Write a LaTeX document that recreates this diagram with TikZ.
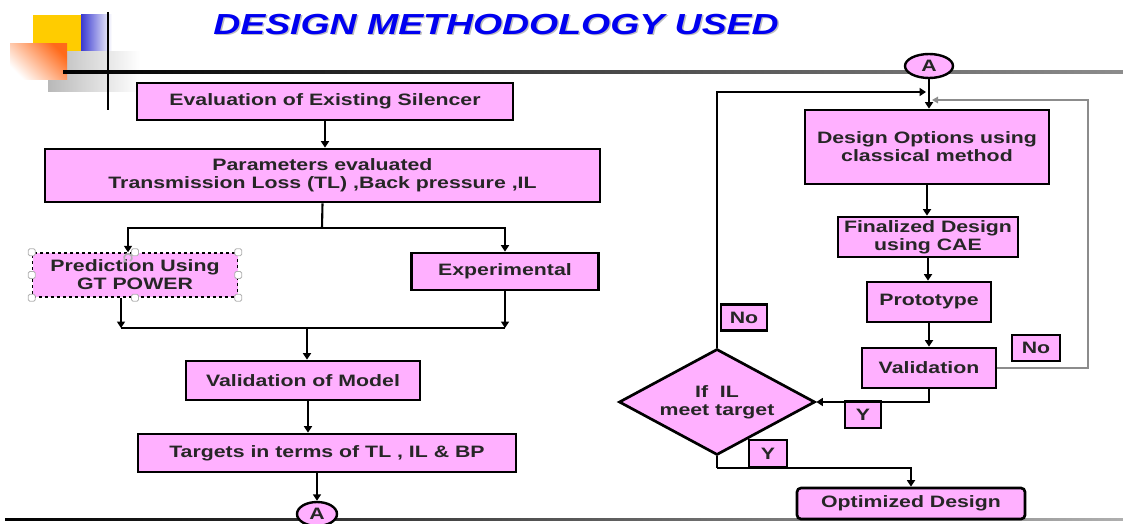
\documentclass[tikz,border=0pt]{standalone}
\usepackage{fontspec}
\setmainfont{Liberation Sans}[FakeStretch=1.29]
\usepackage{tikz}
\usetikzlibrary{positioning,calc,arrows.meta,shapes.geometric}
\definecolor{BoxPink}{HTML}{FFB0FF}
\definecolor{TitleBlue}{HTML}{0000F0}
\definecolor{DecoYellow}{HTML}{FFCC00}
\definecolor{DecoBlue}{HTML}{3A3AD0}
\definecolor{DecoOrange}{HTML}{FF6A1A}
\definecolor{LineGray}{HTML}{8C8C8C}
\tikzset{
  bx/.style={draw=black,fill=BoxPink,line width=2.7pt,inner sep=2pt,align=center,
    font=\fontsize{16.5}{18}\selectfont\bfseries,text=black!85},
  tag/.style={bx,line width=2.4pt,minimum height=26pt},
  dec/.style={bx,diamond,aspect=1.85,inner sep=0pt},
  conn/.style={bx,ellipse,inner sep=0pt,line width=2.4pt},
  ln/.style={draw=black,line width=2.1pt},
  arr/.style={ln,-{Triangle[length=6.5pt,width=8pt]}},
  arrg/.style={draw=LineGray,line width=1.6pt,-{Triangle[length=6pt,width=6.5pt]}},
  hdl/.style={draw=gray!60,fill=white,rounded corners=1.5pt,line width=0.8pt,
    minimum size=7pt,inner sep=0pt},
}
\begin{document}
\begin{tikzpicture}[x=1pt,y=-1pt]
\useasboundingbox (0,0) rectangle (1123,524);

% corner ornament and rules
\fill[DecoYellow] (33,15) rectangle (81,52);
\shade[left color=DecoBlue,right color=white] (81,15) rectangle (112,52);
\shade[left color=gray!55,right color=white] (48,52) rectangle (140,92);
\shade[top color=DecoOrange,bottom color=white,shading angle=-45] (10,44) rectangle (67,80);
\draw[line width=1.8pt] (108,12) -- (108,110);
\shade[left color=black,right color=LineGray] (63,71) rectangle (1123,73.4);
\shade[left color=black,right color=LineGray!70] (5,518) rectangle (1123,520.4);

% title
\node[font=\fontsize{29}{32}\selectfont\bfseries\itshape,text=black!25] at (497.5,26)
  {DESIGN METHODOLOGY USED};
\node[font=\fontsize{29}{32}\selectfont\bfseries\itshape,text=TitleBlue] (title) at (496,24.5)
  {DESIGN METHODOLOGY USED};

% left column
\node[bx,minimum width=376pt,minimum height=37pt] (eval) at (325,101.5)
  {Evaluation of Existing Silencer};
\node[bx,minimum width=555pt,minimum height=53pt] (params) at (322.5,175.5)
  {Parameters evaluated\\Transmission Loss (TL) ,Back pressure ,IL};
\node[bx,dashed,line width=1.5pt,minimum width=205pt,minimum height=44pt] (pred) at (135,275)
  {Prediction Using\\GT POWER};
\node[bx,minimum width=187pt,minimum height=37pt] (exp) at (505,271.5) {Experimental};
\node[bx,minimum width=234pt,minimum height=39pt] (valm) at (303,380.5)
  {Validation of Model};
\node[bx,minimum width=378pt,minimum height=38pt] (targ) at (327,453)
  {Targets in terms of TL , IL \& BP};
\node[conn,minimum width=40pt,minimum height=24pt] (outA) at (317,514) {A};

% selection handles on the prediction box
\foreach \a in {north west,north,north east,east,south east,south,south west,west}
  \node[hdl] at (pred.\a) {};
\draw[gray!60,line width=1.6pt,-{Triangle[length=3pt,width=4pt]}]
  ([xshift=-5pt,yshift=-9pt]pred.north) arc[start angle=-60,end angle=250,radius=4pt];

% right column
\node[conn,minimum width=48pt,minimum height=24pt] (inA) at (929,66) {A};
\node[bx,minimum width=244pt,minimum height=74pt] (dopt) at (927,147)
  {Design Options using\\classical method};
\node[bx,minimum width=180pt,minimum height=40pt] (fin) at (928,237)
  {Finalized Design\\using CAE};
\node[bx,minimum width=124pt,minimum height=40pt] (proto) at (929,302) {Prototype};
\node[bx,minimum width=134pt,minimum height=40pt] (valid) at (929,368) {Validation};
\node[dec,minimum width=196pt,minimum height=106pt] (ilck) at (717,402)
  {If\ \ IL\\meet target};
\node[bx,rounded corners=4pt,minimum width=228pt,minimum height=31pt] (opt) at (911,503.5)
  {Optimized Design};

% decision tags
\node[tag,minimum width=46pt] (noL) at (744,317.5) {No};
\node[tag,minimum width=48pt] (noR) at (1036,348) {No};
\node[tag,minimum width=36pt,minimum height=27pt] (yR) at (863,414.5) {Y};
\node[tag,minimum width=38pt,minimum height=27pt] (yD) at (768,453.5) {Y};

% left flow
\coordinate (fork) at (322,228);
\coordinate (merge) at (307,328);
\draw[arr] (eval.south) -- (eval.south |- params.north);
\draw[ln] (params.south) -- (fork);
\draw[arr] (fork) -| ([xshift=-7pt]pred.north);
\draw[arr] (fork) -| (exp.north);
\draw[arr] ([xshift=-14pt]pred.south) -- ([xshift=-14pt]pred.south |- merge);
\draw[arr] (exp.south) -- (exp.south |- merge);
\draw[ln] ([xshift=-14pt]pred.south |- merge) -- (exp.south |- merge);
\draw[arr] (merge) -- (merge |- valm.north);
\draw[arr] ([xshift=5pt]valm.south) -- ([xshift=5pt]valm.south |- targ.north);
\draw[arr] (outA.north |- targ.south) -- (outA.north);

% right flow
\coordinate (inL) at (926,92);
\coordinate (cornR) at (1088,100);
\coordinate (inR) at (932,100);
\coordinate (drop) at (717,468);
\draw[arr] (inA.south) -- (inA.south |- dopt.north);
\draw[arr] (dopt.south) -- (dopt.south |- fin.north);
\draw[arr] (fin.south) -- (fin.south |- proto.north);
\draw[arr] (proto.south) -- (proto.south |- valid.north);
\draw[arr] (valid.south) |- (ilck.east);
\draw[arr] (ilck.north) |- (inL);
\draw[arrg] (valid.east) -| (cornR) -- (inR);
\draw[ln] (ilck.south) -- (drop);
\draw[arr] (drop) -| (opt.north);
\end{tikzpicture}
\end{document}
